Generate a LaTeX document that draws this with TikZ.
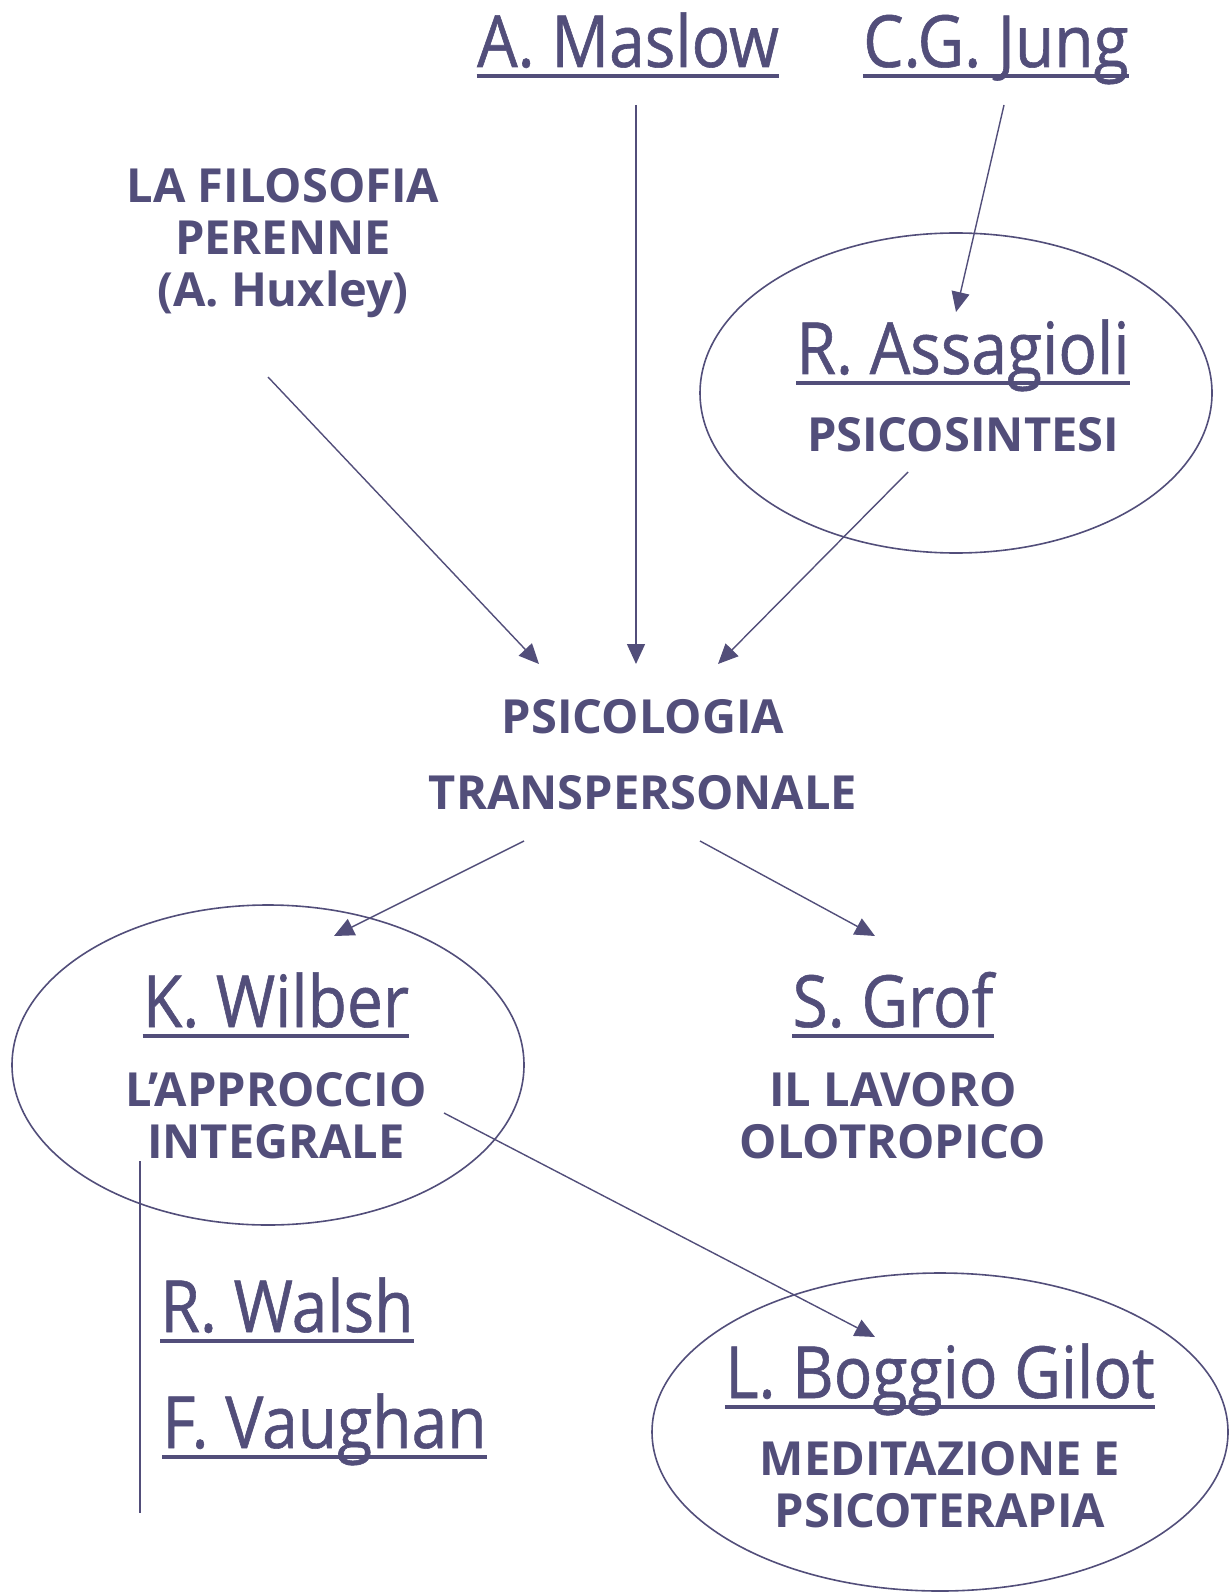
\documentclass[tikz,border=0pt]{standalone}
\usepackage{fontspec}
\setmainfont{Open Sans}
\newfontfamily\namefont[FakeStretch=0.89,FakeBold=0.8]{Open Sans}
\usetikzlibrary{arrows.meta,shapes.geometric}
\definecolor{ink}{RGB}{82,78,122}

\begin{document}
\begin{tikzpicture}[x=0.5pt,y=-0.5pt,
  person/.style={font=\namefont\fontsize{36}{40}\selectfont,text=ink,inner sep=0pt,anchor=base,
    append after command={([yshift=-4.5pt]\tikzlastnode.base west) edge[draw=ink,line width=2.2pt] ([yshift=-4.5pt]\tikzlastnode.base east)}},
  caps/.style={font=\bfseries\fontsize{23.5}{26}\selectfont,text=ink,align=center,inner sep=0pt},
  ring/.style={draw=ink,line width=0.8pt,ellipse,inner sep=0pt},
  flow/.style={draw=ink,line width=0.7pt,-{Triangle[length=10pt,width=9pt]}}]
\useasboundingbox (0,0) rectangle (1231,1593);

% top row
\node[person] (maslow) at (628,67) {A. Maslow};
\node[person] (jung) at (996,67) {C.G. Jung};
\node[caps] (huxley) at (283,243) {LA FILOSOFIA\\PERENNE\\(A. Huxley)};

% Assagioli
\node[ring,minimum width=256pt,minimum height=160pt] (ring1) at (956,393) {};
\node[person] (assagioli) at (963,374) {R. Assagioli};
\node[caps] (psicosintesi) at (963,435) {PSICOSINTESI};

% centre
\node[caps] (psicologia) at (643,717) {PSICOLOGIA};
\node[caps] (transp) at (643,793) {TRANSPERSONALE};

% Wilber
\node[ring,minimum width=256pt,minimum height=160pt] (ring2) at (268,1065) {};
\node[person] (wilber) at (276,1027) {K. Wilber};
\node[caps] (approccio) at (276,1116) {L'APPROCCIO\\INTEGRALE};

% Grof
\node[person] (grof) at (893,1027) {S. Grof};
\node[caps] (olotropico) at (893,1116) {IL LAVORO\\OLOTROPICO};

% Walsh / Vaughan
\node[person,anchor=base west] (walsh) at (160,1332) {R. Walsh};
\node[person,anchor=base west] (vaughan) at (162,1448) {F. Vaughan};
\coordinate (v0) at (140,1161);
\coordinate (v1) at (140,1513);
\draw[ink,line width=0.7pt] (v0) -- (v1);

% Boggio Gilot
\node[ring,minimum width=288pt,minimum height=159pt] (ring3) at (940,1432) {};
\node[person] (boggio) at (940,1398) {L. Boggio Gilot};
\node[caps] (meditazione) at (940,1485) {MEDITAZIONE E\\PSICOTERAPIA};

% arrow ends
\coordinate (h0) at (268,377);  \coordinate (h1) at (539,664);
\coordinate (m0) at (636,105);  \coordinate (m1) at (636,664);
\coordinate (j0) at (1004,105); \coordinate (j1) at (956,312);
\coordinate (a0) at (908,472);  \coordinate (a1) at (718,664);
\coordinate (t0) at (524,841);  \coordinate (t1) at (334,936);
\coordinate (t2) at (700,841);  \coordinate (t3) at (875,936);
\coordinate (w0) at (444,1113); \coordinate (w1) at (875,1337);

\draw[flow] (h0) -- (h1);
\draw[flow] (m0) -- (m1);
\draw[flow] (j0) -- (j1);
\draw[flow] (a0) -- (a1);
\draw[flow] (t0) -- (t1);
\draw[flow] (t2) -- (t3);
\draw[flow] (w0) -- (w1);
\end{tikzpicture}
\end{document}
